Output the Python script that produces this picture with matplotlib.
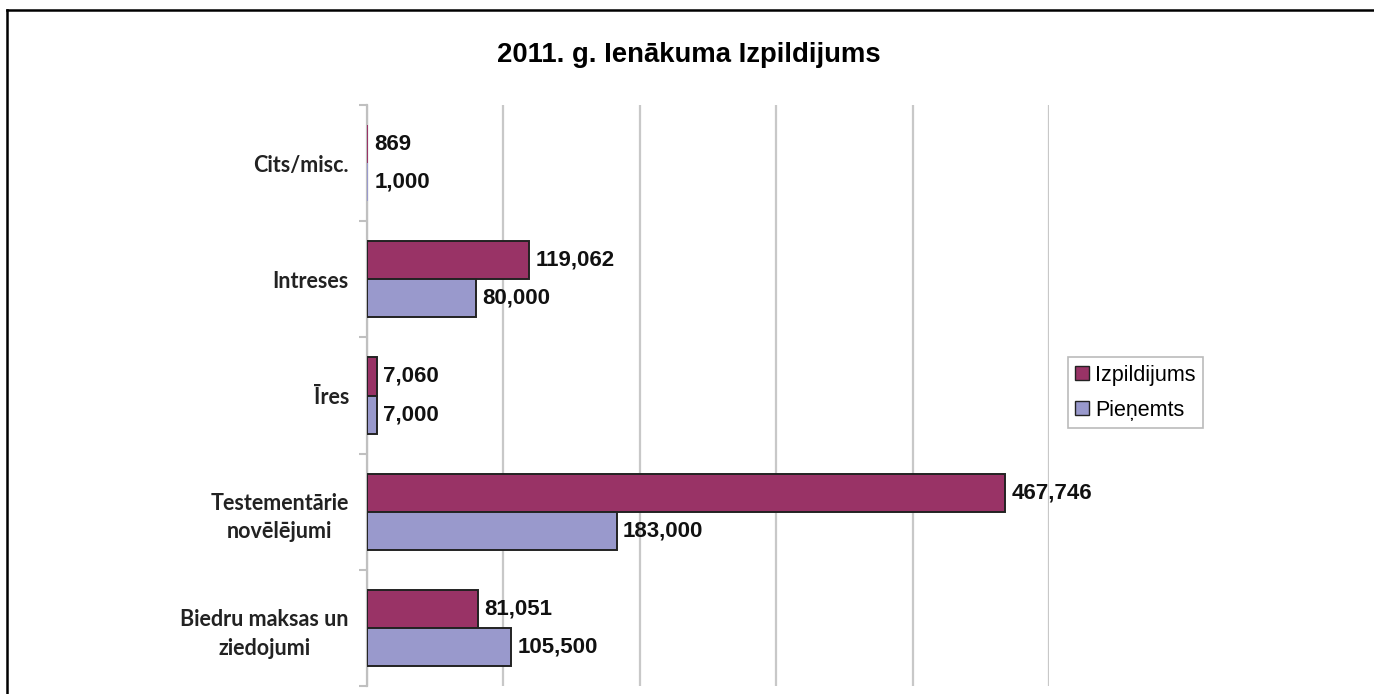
import matplotlib
matplotlib.use("Agg")
import matplotlib.pyplot as plt
from matplotlib.lines import Line2D
import numpy as np

categories = ["Biedru maksas un\nziedojumi", "Testementārie\nnovēlējumi", "Īres", "Intreses", "Cits/misc."]
izpildijums = [81051, 467746, 7060, 119062, 869]
pienemts = [105500, 183000, 7000, 80000, 1000]
series_names = ["Izpildijums", "Pieņemts"]
title = "2011. g. Ienākuma Izpildijums"

c_izp = "#993366"
c_pie = "#9999CC"

fig = plt.figure(figsize=(13.74, 6.94), dpi=100)
W, H = 1374, 694
ax = fig.add_axes([367 / W, 1 - 686 / H, (1049 - 367) / W, (686 - 105) / H])

y = np.arange(len(categories))
h = 0.328


def edge_widths(vals):
    # very thin bars show no visible outline in the reference
    return [1.4 if v > 2000 else 0 for v in vals]


ax.barh(y + h / 2, izpildijums, height=h, color=c_izp, edgecolor="#222222",
        linewidth=edge_widths(izpildijums), zorder=3)
ax.barh(y - h / 2, pienemts, height=h, color=c_pie, edgecolor="#222222",
        linewidth=edge_widths(pienemts), zorder=3)

lab_font = dict(family="Liberation Sans", fontweight="bold", fontsize=16, color="#111111")
for yi, v in zip(y, izpildijums):
    ax.annotate(f"{v:,}", (v, yi + h / 2), xytext=(4.5, 0), textcoords="offset points",
                va="center", ha="left", **lab_font)
for yi, v in zip(y, pienemts):
    ax.annotate(f"{v:,}", (v, yi - h / 2), xytext=(4.5, 0), textcoords="offset points",
                va="center", ha="left", **lab_font)

ax.set_xlim(0, 500000)
ax.set_ylim(-0.5, len(categories) - 0.5)
ax.set_xticks(np.arange(0, 500001, 100000))
ax.xaxis.grid(True, color="#c8c8c8", linewidth=1.6, zorder=0)
ax.tick_params(axis="x", length=0, labelbottom=False)
ax.set_yticks(y)
ax.set_yticklabels(categories, family="Lato", fontweight="bold", fontsize=15.5, color="#222222",
                   multialignment="center", linespacing=1.45)
ax.tick_params(axis="y", which="major", length=0, pad=13)
ax.set_yticks(np.arange(-0.5, len(categories), 1.0), minor=True)
ax.tick_params(axis="y", which="minor", length=6, color="#c0c0c0", width=1.5)
for s in ["top", "right", "bottom"]:
    ax.spines[s].set_visible(False)
ax.spines["left"].set_color("#c0c0c0")
ax.spines["left"].set_linewidth(1.6)

fig.text(689 / W, 1 - 55 / H, title, ha="center", va="center", family="Liberation Sans",
         fontweight="bold", fontsize=19.8)

handles = [Line2D([], [], marker="s", linestyle="none", markersize=10, markerfacecolor=c_izp,
                  markeredgecolor="#222222", markeredgewidth=1.0),
           Line2D([], [], marker="s", linestyle="none", markersize=10, markerfacecolor=c_pie,
                  markeredgecolor="#222222", markeredgewidth=1.0)]
leg = fig.legend(handles, series_names, loc="upper left", bbox_to_anchor=(1068 / W, 1 - 357 / H),
                 frameon=True, fancybox=False, prop=dict(family="Liberation Sans", size=15.5),
                 handlelength=0.6, handletextpad=0.3, borderpad=0.35, labelspacing=0.65,
                 borderaxespad=0)
leg.get_frame().set_edgecolor("#aaaaaa")
leg.get_frame().set_linewidth(1.2)

# outer frame (top and left edges)
fig.add_artist(Line2D([7 / W, 1.0], [1 - 10 / H, 1 - 10 / H], color="black", linewidth=1.8,
                      transform=fig.transFigure))
fig.add_artist(Line2D([7 / W, 7 / W], [1 - 10 / H, 0], color="black", linewidth=1.8,
                      transform=fig.transFigure))

fig.savefig("out.png", dpi=100)
